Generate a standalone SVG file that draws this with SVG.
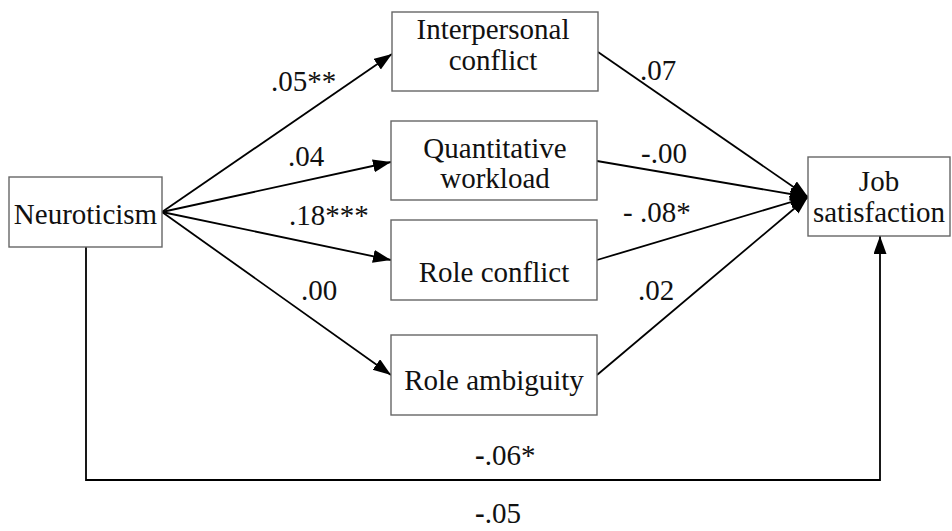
<svg xmlns="http://www.w3.org/2000/svg" width="952" height="531" viewBox="0 0 952 531">
<style>
  .box { fill: #ffffff; stroke: #666666; stroke-width: 1.4; }
  .t { font-family: 'Liberation Serif', serif; font-size: 29px; fill: #111111; }
  .c { text-anchor: middle; }
  .ln { fill: none; stroke: #000000; stroke-width: 1.8; }
</style>
<defs>
  <marker id="ah" markerUnits="userSpaceOnUse" markerWidth="20" markerHeight="14" refX="18" refY="6.5" orient="auto">
    <path d="M0,0 L18,6.5 L0,13 z" fill="#000000"/>
  </marker>
</defs>
<rect width="952" height="531" fill="#ffffff"/>
<g id="connectors">
  <line class="ln" x1="162" y1="212" x2="392" y2="54" marker-end="url(#ah)"/>
  <line class="ln" x1="162" y1="212" x2="391" y2="162" marker-end="url(#ah)"/>
  <line class="ln" x1="162" y1="212" x2="391" y2="260" marker-end="url(#ah)"/>
  <line class="ln" x1="162" y1="212" x2="391" y2="375" marker-end="url(#ah)"/>
  <line class="ln" x1="598" y1="52" x2="808" y2="197" marker-end="url(#ah)"/>
  <line class="ln" x1="597" y1="161" x2="808" y2="197" marker-end="url(#ah)"/>
  <line class="ln" x1="597" y1="260" x2="808" y2="197" marker-end="url(#ah)"/>
  <line class="ln" x1="597" y1="375" x2="808" y2="197" marker-end="url(#ah)"/>
  <polyline class="ln" points="86,247 86,480 880,480 880,236" marker-end="url(#ah)"/>
  <text class="t" x="271" y="91">.05**</text>
  <text class="t" x="288" y="166">.04</text>
  <text class="t" x="289" y="225">.18***</text>
  <text class="t" x="301" y="300">.00</text>
  <text class="t" x="640" y="80">.07</text>
  <text class="t" x="641" y="163">-.00</text>
  <text class="t" x="623" y="222">- .08*</text>
  <text class="t" x="638" y="300">.02</text>
  <text class="t" x="475" y="465"><tspan font-weight="bold">-</tspan>.06*</text>
  <text class="t" x="475" y="523"><tspan font-weight="bold">-</tspan>.05</text>
</g>
<g id="neuroticism">
  <rect class="box" x="9" y="177" width="153" height="70"/>
  <text class="t c" x="85.5" y="224">Neuroticism</text>
</g>
<g id="interpersonal-conflict">
  <rect class="box" x="392" y="12" width="206" height="79"/>
  <text class="t c" x="493" y="39">Interpersonal</text>
  <text class="t c" x="493" y="70">conflict</text>
</g>
<g id="quantitative-workload">
  <rect class="box" x="391" y="121" width="206" height="79"/>
  <text class="t c" x="495" y="158">Quantitative</text>
  <text class="t c" x="495" y="188">workload</text>
</g>
<g id="role-conflict">
  <rect class="box" x="391" y="220" width="206" height="80"/>
  <text class="t c" x="494" y="282">Role conflict</text>
</g>
<g id="role-ambiguity">
  <rect class="box" x="391" y="335" width="206" height="80"/>
  <text class="t c" x="494" y="390">Role ambiguity</text>
</g>
<g id="job-satisfaction">
  <rect class="box" x="808" y="157" width="142" height="79"/>
  <text class="t c" x="879" y="191">Job</text>
  <text class="t c" x="879" y="222">satisfaction</text>
</g>
</svg>
